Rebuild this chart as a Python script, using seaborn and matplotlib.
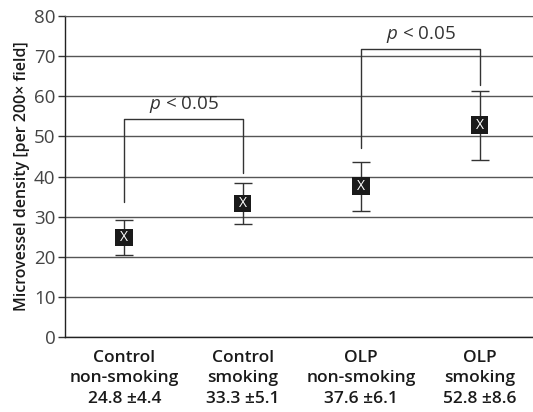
import numpy as np
import pandas as pd
import matplotlib
matplotlib.use("Agg")
import matplotlib.pyplot as plt
import seaborn as sns

# values
groups = ["Control\nnon-smoking", "Control\nsmoking", "OLP\nnon-smoking", "OLP\nsmoking"]
means = [24.8, 33.3, 37.6, 52.8]
sds = [4.4, 5.1, 6.1, 8.6]
tick_labels = [f"{g}\n{m} \u00b1{s}" for g, m, s in zip(groups, means, sds)]

# significance brackets: (left, right, left leg bottom, right leg bottom, bar height)
brackets = [(0, 1, 33.7, 41.0, 54.4), (2, 3, 47.1, 62.8, 71.7)]
p_text = "$p$ < 0.05"

sns.set_style("white")
plt.rcParams['font.family'] = ['Open Sans', 'DejaVu Sans']
plt.rcParams['mathtext.fontset'] = 'custom'
plt.rcParams['mathtext.it'] = 'Open Sans:italic'
plt.rcParams['mathtext.rm'] = 'Open Sans'

df = pd.DataFrame({"group": groups, "mvd": means, "pos": range(len(groups))})

fig = plt.figure(figsize=(5.33, 4.12), dpi=100)
ax = fig.add_axes([0.122, 0.182, 0.889, 0.779])

ax.errorbar(df["pos"], df["mvd"], yerr=sds, fmt="none", ecolor="#333333",
            elinewidth=1, capsize=6.5, capthick=1, zorder=3)
sns.scatterplot(data=df, x="pos", y="mvd", marker="s", s=160, color="#1a1a1a",
                edgecolor="none", ax=ax, zorder=4, legend=False)
for x, y in zip(df["pos"], df["mvd"]):
    ax.text(x, y, "X", color="white", ha="center", va="center", fontsize=10,
            zorder=5)

for x0, x1, y0, y1, top in brackets:
    ax.plot([x0, x0, x1, x1], [y0, top, top, y1], color="#333333", lw=1, zorder=2)
    ax.text((x0 + x1) / 2, top + 1.0, p_text, ha="center", va="bottom",
            fontsize=13.5, color="#333333")

ax.set_xlim(-0.5, 3.5)
ax.set_ylim(0, 80)
ax.set_yticks(range(0, 81, 10))
ax.yaxis.grid(True, color="#555555", lw=1)
ax.set_axisbelow(True)
ax.set_xticks(range(4))
ax.set_xticklabels(tick_labels, fontsize=12.5, fontweight="semibold", color="#1a1a1a",
                   linespacing=1.4)
ax.set_xticks([0.5, 1.5, 2.5], minor=True)
ax.tick_params(axis="x", which="major", length=0, pad=9)
ax.tick_params(axis="x", which="minor", length=5, width=1, color="#333333", direction="out")
ax.tick_params(axis="y", length=5, width=1, color="#333333", direction="out",
               labelsize=13.5, labelcolor="#444444", pad=2, left=True)
ax.set_xlabel("")
ax.set_ylabel("Microvessel density [per 200\u00d7 field]", fontsize=11.5,
              fontweight="semibold", color="#1a1a1a", labelpad=3)

for side in ["left", "bottom"]:
    ax.spines[side].set_color("#222222")
    ax.spines[side].set_linewidth(1)
ax.spines["right"].set_visible(False)
ax.spines["top"].set_color("#555555")

fig.savefig("out.png", dpi=100)
